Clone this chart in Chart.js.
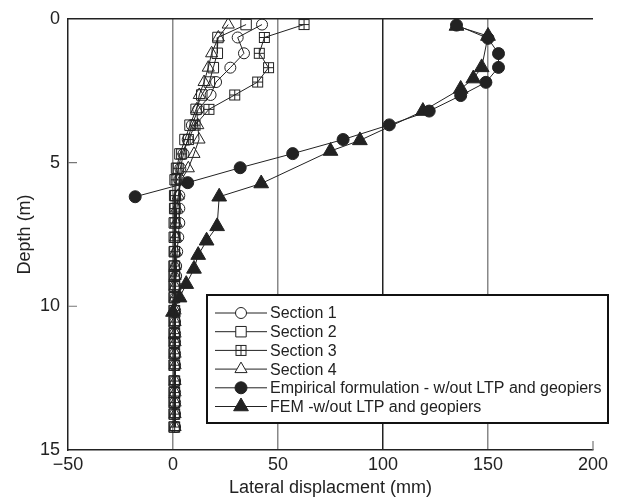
<!DOCTYPE html>
<html>
<head>
<meta charset="utf-8">
<script src="https://cdn.jsdelivr.net/npm/chart.js@4"></script>
<style>
  html, body { margin: 0; padding: 0; background: #fff; }
  #wrap { width: 622px; height: 499px; }
</style>
</head>
<body>
<div id="wrap"><canvas id="graficoDesloc" width="622" height="499"></canvas></div>
<script>
// Profundidades e deslocamentos
const depthSec = [0.2, 0.65, 1.2, 1.7, 2.2, 2.65, 3.15, 3.7, 4.2, 4.7, 5.2, 5.6, 6.15, 6.6, 7.1, 7.6, 8.1, 8.6, 8.95, 9.3, 9.7, 10.15, 10.55, 10.95, 11.25, 11.65, 12.05, 12.6, 13.0, 13.35, 13.75, 14.2];
const section1 = [42.4, 30.8, 33.8, 27.3, 20.5, 17.9, 12, 9, 7, 5, 3.5, 3, 3, 3, 3, 2.5, 2, 1.5, 1.5, 1.2, 1.2, 1, 1, 1, 1, 1, 1, 1, 1, 1, 1, 1];
const section2 = [34.8, 21.4, 21.1, 19.2, 17.3, 13.7, 11, 8.1, 5.7, 3.3, 1.7, 1, 0.8, 0.8, 0.6, 0.6, 0.6, 0.5, 0.5, 0.5, 0.5, 0.5, 0.5, 0.5, 0.5, 0.5, 0.5, 0.5, 0.5, 0.5, 0.5, 0.5];
const section3 = [62.4, 43.5, 41.1, 45.5, 40.3, 29.4, 17.1, 10.5, 7.3, 4.1, 2.5, 1.5, 1.2, 1, 1, 1, 0.8, 0.8, 0.8, 0.8, 0.8, 0.8, 0.8, 0.8, 0.8, 0.8, 0.8, 0.8, 0.8, 0.8, 0.8, 0.8];
const section4 = [26.3, 21.6, 18.4, 16.8, 14.8, 12.5, 11.3, 11.8, 12.4, 10, 7.3, 4, 2.5, 1.8, 1.5, 1.2, 1.2, 1, 1, 1, 1, 1, 1, 1, 1, 1, 1, 1, 1, 1, 1, 1];

const depthEmp = [0.22, 0.68, 1.21, 1.69, 2.21, 2.67, 3.21, 3.69, 4.2, 4.69, 5.18, 5.7, 6.19];
const empirical = [135, 150, 155, 155, 149, 137, 122, 103, 81, 57, 32, 7, -18];

const depthFem = [0.25, 0.6, 1.69, 2.08, 2.44, 3.21, 4.23, 4.6, 5.73, 6.19, 7.22, 7.72, 8.22, 8.7, 9.23, 9.7, 10.2];
const fem = [135, 150, 147, 143, 137, 119, 89, 75, 42, 22, 21, 16, 12, 10, 6.3, 3.1, 0];

const xTicks = [-50, 0, 50, 100, 150, 200];
const yTicks = [0, 5, 10, 15];

const legendLabels = ['Section 1', 'Section 2', 'Section 3', 'Section 4',
    'Empirical formulation - w/out LTP and geopiers', 'FEM -w/out LTP and geopiers'];

const pontos = (xs, ys) => xs.map((v, i) => ({ x: v, y: ys[i] }));

// quadrado com cruz (Section 3)
const quadCruz = document.createElement('canvas');
quadCruz.width = 13; quadCruz.height = 13;
(function () {
    const c = quadCruz.getContext('2d');
    c.strokeStyle = '#222';
    c.lineWidth = 1;
    c.strokeRect(1.5, 1.5, 10, 10);
    c.beginPath();
    c.moveTo(6.5, 1.5); c.lineTo(6.5, 11.5);
    c.moveTo(1.5, 6.5); c.lineTo(11.5, 6.5);
    c.stroke();
})();

const linha = '#222';
const vazio = 'rgba(0,0,0,0)';

function serie(label, xs, ys, style, radius, fill) {
    return {
        label: label,
        data: pontos(xs, ys),
        showLine: true,
        borderColor: linha,
        borderWidth: 1,
        pointStyle: style,
        pointRadius: radius,
        pointHoverRadius: radius,
        pointBorderColor: linha,
        pointBorderWidth: 1,
        pointBackgroundColor: fill ? linha : vazio,
        backgroundColor: fill ? linha : vazio
    };
}

const datasets = [
    serie(legendLabels[0], section1, depthSec, 'circle', 5.5, false),
    serie(legendLabels[1], section2, depthSec, 'rect', 7.4, false),
    serie(legendLabels[2], section3, depthSec, quadCruz, 6, false),
    serie(legendLabels[3], section4, depthSec, 'triangle', 7, false),
    serie(legendLabels[4], empirical, depthEmp, 'circle', 6, true),
    serie(legendLabels[5], fem, depthFem, 'triangle', 8.5, true)
];

// moldura superior, ticks internos e legenda dentro da área
const extras = {
    id: 'extras',
    afterDraw(chart) {
        const { ctx, chartArea: a, scales } = chart;
        ctx.save();
        ctx.strokeStyle = '#222';
        ctx.lineWidth = 1.5;
        ctx.beginPath();
        ctx.moveTo(a.left, a.top);
        ctx.lineTo(a.right, a.top);
        ctx.stroke();

        ctx.strokeStyle = '#777';
        ctx.lineWidth = 1.2;
        ctx.beginPath();
        [5, 10].forEach(v => {
            const y = scales.y.getPixelForValue(v);
            ctx.moveTo(a.left, y); ctx.lineTo(a.left + 9, y);
        });
        const x200 = scales.x.getPixelForValue(200);
        ctx.moveTo(x200, a.bottom); ctx.lineTo(x200, a.bottom - 9);
        ctx.stroke();

        // legenda
        const bx = 207, by = 295, bw = 401, bh = 128;
        ctx.fillStyle = '#fff';
        ctx.fillRect(bx, by, bw, bh);
        ctx.strokeStyle = '#111';
        ctx.lineWidth = 2;
        ctx.strokeRect(bx, by, bw, bh);
        ctx.font = '16px "Liberation Sans", Arial, sans-serif';
        ctx.textBaseline = 'middle';
        chart.data.datasets.forEach((ds, i) => {
            const y = 313 + i * 18.7;
            ctx.strokeStyle = linha;
            ctx.lineWidth = 1;
            ctx.beginPath();
            ctx.moveTo(215, y); ctx.lineTo(267, y);
            ctx.stroke();
            ctx.fillStyle = ds.pointBackgroundColor === vazio ? '#fff' : linha;
            ctx.strokeStyle = linha;
            ctx.lineWidth = 1;
            Chart.helpers.drawPoint(ctx, {
                pointStyle: ds.pointStyle,
                radius: ds.pointRadius,
                borderWidth: 1,
                rotation: 0
            }, 241, y);
            ctx.fillStyle = '#222';
            ctx.fillText(ds.label, 270, y + 1);
        });
        ctx.restore();
    }
};

Chart.defaults.font.family = '"Liberation Sans", Arial, sans-serif';
Chart.defaults.color = '#222';

const ctxDesloc = document.getElementById('graficoDesloc').getContext('2d');
new Chart(ctxDesloc, {
    type: 'scatter',
    data: { datasets: datasets },
    options: {
        responsive: false,
        animation: false,
        layout: { padding: { left: 0, right: 29, top: 16, bottom: 0 } },
        plugins: {
            legend: { display: false },
            tooltip: { enabled: false }
        },
        scales: {
            x: {
                type: 'linear',
                min: -50,
                max: 200,
                afterBuildTicks: s => { s.ticks = xTicks.map(v => ({ value: v })); },
                afterFit: s => { s.height = 49; },
                ticks: {
                    font: { size: 18 },
                    padding: 4,
                    maxRotation: 0,
                    callback: v => v < 0 ? '\u2212' + Math.abs(v) : String(v)
                },
                grid: {
                    drawTicks: false,
                    lineWidth: 1.5,
                    color: c => {
                        const v = c.tick && c.tick.value;
                        if (v === 100) return '#222';
                        if (v === 0 || v === 50 || v === 150) return '#888';
                        return 'rgba(0,0,0,0)';
                    }
                },
                border: { display: true, color: '#222', width: 1.5 },
                title: {
                    display: true,
                    text: 'Lateral displacment (mm)',
                    font: { size: 18 },
                    padding: { top: 0, bottom: 0 }
                }
            },
            y: {
                type: 'linear',
                reverse: true,
                min: 0,
                max: 15,
                afterBuildTicks: s => { s.ticks = yTicks.map(v => ({ value: v })); },
                afterFit: s => { s.width = 68; },
                ticks: { font: { size: 18 }, padding: 8 },
                grid: { display: false, drawTicks: false },
                border: { display: true, color: '#222', width: 1.5 },
                title: {
                    display: true,
                    text: 'Depth (m)',
                    font: { size: 18 },
                    padding: { top: 14, bottom: 4 }
                }
            }
        }
    },
    plugins: [extras]
});
</script>
</body>
</html>
